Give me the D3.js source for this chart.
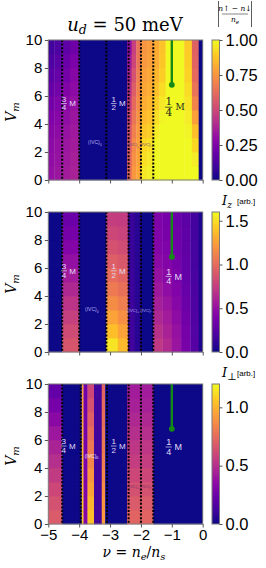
<!DOCTYPE html>
<html><head><meta charset="utf-8">
<script src="https://cdn.jsdelivr.net/npm/d3@7"></script>
<style>body{margin:0;background:#fff}svg{display:block}</style></head>
<body><svg id="c" width="266" height="568"></svg>
<script>
// ---------------- DATA ----------------
const vEdges = [0,1,2,3,4,5,6,7,8,9,10];
const xTicks = [-5,-4,-3,-2,-1,0];
const yTicks = [0,2,4,6,8,10];

// Panel 1: |(n_up - n_down)/n_e|  (values per column, V bins bottom -> top)
const p1Edges = [-5,-4.8,-4.55,-4.3,-4.0,-2.45,-2.3,-2.15,-2.0,-1.8,-1.6,-1.4,-1.2,-0.6,-0.35,-0.13,0];
const p1Values = [
  [0.31,0.30,0.29,0.27,0.25,0.22,0.19,0.16,0.13,0.10],
  [0.33,0.32,0.31,0.29,0.27,0.25,0.22,0.19,0.16,0.13],
  [0.35,0.34,0.33,0.32,0.30,0.28,0.26,0.23,0.20,0.17],
  [0.37,0.36,0.35,0.34,0.33,0.31,0.29,0.27,0.24,0.21],
  [0,0,0,0,0,0,0,0,0,0],
  [0.62,0.60,0.57,0.54,0.50,0.46,0.42,0.38,0.34,0.30],
  [0.76,0.74,0.72,0.69,0.66,0.62,0.58,0.54,0.50,0.48],
  [0.80,0.79,0.78,0.76,0.74,0.72,0.70,0.68,0.66,0.65],
  [0.96,0.94,0.92,0.88,0.85,0.82,0.80,0.78,0.76,0.75],
  [0.98,0.96,0.94,0.90,0.87,0.84,0.82,0.80,0.78,0.77],
  [1.00,1.00,0.99,0.97,0.94,0.90,0.87,0.84,0.82,0.81],
  [1.00,1.00,1.00,1.00,0.99,0.96,0.93,0.90,0.88,0.87],
  [1,1,1,1,1,1,1,1,1,1],
  [1.00,1.00,1.00,0.99,0.97,0.95,0.93,0.91,0.90,0.89],
  [1.00,0.97,0.92,0.86,0.78,0.70,0.65,0.62,0.60,0.59],
  [0,0,0,0,0,0,0,0,0,0]
];
const p1Dotted = [-4.55,-4.0,-3.12,-2.4,-2.0,-1.6];
const p1CbTicks = [0,0.25,0.5,0.75,1.0];
const p1Max = 1.0;

// Panel 2: I_z [arb.]
const p2Edges = [-5,-4.55,-4.0,-3.12,-2.75,-2.42,-2.2,-2.0,-1.6,-1.3,-1.0,-0.7,-0.4,-0.13,0];
const p2Values = [
  [0,0,0,0,0,0,0,0,0,0],
  [0.88,0.82,0.76,0.70,0.63,0.56,0.49,0.42,0.37,0.33],
  [0,0,0,0,0,0,0,0,0,0],
  [1.52,1.38,1.26,1.16,1.07,1.00,0.93,0.86,0.80,0.75],
  [1.35,1.26,1.17,1.09,1.02,0.96,0.89,0.83,0.78,0.74],
  [0.16,0.15,0.15,0.14,0.14,0.14,0.13,0.13,0.13,0.13],
  [0.07,0.07,0.07,0.07,0.07,0.07,0.07,0.07,0.07,0.07],
  [0,0,0,0,0,0,0,0,0,0],
  [0.72,0.68,0.63,0.58,0.54,0.50,0.46,0.43,0.41,0.40],
  [0.64,0.60,0.56,0.52,0.48,0.45,0.42,0.40,0.38,0.37],
  [0.52,0.50,0.47,0.44,0.41,0.39,0.37,0.35,0.34,0.33],
  [0.38,0.37,0.35,0.33,0.31,0.30,0.29,0.28,0.27,0.26],
  [0.24,0.23,0.22,0.21,0.20,0.19,0.18,0.18,0.17,0.17],
  [0.04,0.04,0.04,0.04,0.04,0.04,0.04,0.04,0.04,0.04]
];
const p2Dotted = [-4.55,-4.0,-3.12,-2.4,-2.0,-1.6];
const p2CbTicks = [0,0.5,1.0,1.5];
const p2Max = 1.6;

// Panel 3: I_perp [arb.]
const p3Edges = [-5,-4.55,-3.92,-3.86,-3.73,-3.52,-3.27,-3.16,-2.45,-1.6,0];
const p3Values = [
  [0.68,0.64,0.60,0.55,0.50,0.45,0.40,0.34,0.28,0.22],
  [0,0,0,0,0,0,0,0,0,0],
  [1.05,1.05,1.04,1.03,1.02,1.00,0.98,0.96,0.94,0.92],
  [0.32,0.31,0.30,0.30,0.29,0.28,0.28,0.27,0.26,0.26],
  [1.04,1.00,0.95,0.90,0.85,0.80,0.75,0.70,0.65,0.60],
  [0.12,0.12,0.12,0.12,0.12,0.12,0.12,0.12,0.12,0.12],
  [0.92,0.90,0.88,0.85,0.82,0.80,0.78,0.76,0.74,0.72],
  [0,0,0,0,0,0,0,0,0,0],
  [0.72,0.68,0.64,0.60,0.56,0.53,0.50,0.47,0.44,0.42],
  [0,0,0,0,0,0,0,0,0,0]
];
const p3Dotted = [-4.55,-3.95,-3.1,-2.4,-2.0,-1.6];
const p3CbTicks = [0,0.5,1.0];
const p3Max = 1.2;

// green marker line (nu, V from top down to end)
const greenNu = -1;
const greenVEnd = 6.8;

// region labels: [nu, V]
const p1Labels = {q34:[-4.49,5.46], q12:[-2.88,5.46], q14:[-1.1,5.2], ivc0:[-3.49,2.55], ivcpm:[-2.04,2.4]};
const p2Labels = {q34:[-4.49,5.8], q12:[-2.88,5.8], q14:[-1.1,5.4], ivc0:[-3.59,2.9], ivcpm:[-2.04,2.85]};
const p3Labels = {q34:[-4.5,5.57], q12:[-2.88,5.57], q14:[-1.1,5.5], ivc0:[-3.6,4.75], ivcpm:[-2.04,2.55]};

// ---------------- DRAW ----------------
const svg = d3.select("#c");
const X0 = 48.3, X1 = 202.7;
const xs = d3.scaleLinear([-5,0],[X0,X1]);
const CBX = 212, CBW = 7.5;
const SANS = "'Liberation Sans', Arial, Helvetica, sans-serif";
const SERIF = "'DejaVu Serif', 'Liberation Serif', serif";

const defs = svg.append("defs");

const panels = [
  {edges:p1Edges, values:p1Values, dotted:p1Dotted, cb:p1CbTicks, max:p1Max, fmt:d3.format(".2f"), top:40, labels:p1Labels, id:1},
  {edges:p2Edges, values:p2Values, dotted:p2Dotted, cb:p2CbTicks, max:p2Max, fmt:d3.format(".1f"), top:212, labels:p2Labels, id:2},
  {edges:p3Edges, values:p3Values, dotted:p3Dotted, cb:p3CbTicks, max:p3Max, fmt:d3.format(".1f"), top:384, labels:p3Labels, id:3}
];

function frac(g, x, y, num, den, size, color, font, mSize, mFont) {
  const w = size*0.7;
  g.append("text").attr("x",x).attr("y",y-size*0.2).attr("text-anchor","middle")
    .attr("font-size",size).attr("font-family",font).attr("fill",color).text(num);
  g.append("line").attr("x1",x-w/2).attr("x2",x+w/2).attr("y1",y).attr("y2",y)
    .attr("stroke",color).attr("stroke-width",Math.max(0.7,size*0.07));
  g.append("text").attr("x",x).attr("y",y+size*0.85).attr("text-anchor","middle")
    .attr("font-size",size).attr("font-family",font).attr("fill",color).text(den);
  g.append("text").attr("x",x+w/2+size*0.3).attr("y",y+mSize*0.36)
    .attr("font-size",mSize).attr("font-family",mFont).attr("fill",color).text("M");
}

panels.forEach(p => {
  const bottom = p.top + 140;
  const ys = d3.scaleLinear([0,10],[bottom,p.top]);
  const color = v => d3.interpolatePlasma(Math.max(0,Math.min(1,v/p.max)));
  const g = svg.append("g");

  // heatmap cells
  p.values.forEach((col,i) => {
    col.forEach((v,j) => {
      g.append("rect")
        .attr("x", xs(p.edges[i]))
        .attr("width", xs(p.edges[i+1]) - xs(p.edges[i]) + 0.3)
        .attr("y", ys(vEdges[j+1]))
        .attr("height", ys(vEdges[j]) - ys(vEdges[j+1]) + 0.3)
        .attr("fill", color(v));
    });
  });

  // dotted lines
  p.dotted.forEach(n => {
    g.append("line").attr("x1",xs(n)).attr("x2",xs(n)).attr("y1",ys(10)).attr("y2",ys(0))
      .attr("stroke","#000").attr("stroke-width",2).attr("stroke-dasharray","2,1.6");
  });

  // green line
  g.append("line").attr("x1",xs(greenNu)).attr("x2",xs(greenNu)).attr("y1",ys(10)).attr("y2",ys(greenVEnd))
    .attr("stroke","#158a15").attr("stroke-width",2.4);
  g.append("circle").attr("cx",xs(greenNu)).attr("cy",ys(greenVEnd)).attr("r",2.9).attr("fill","#158a15");

  // labels
  const L = p.labels;
  const light = "#e2dcf8";
  frac(g, xs(L.q34[0]), ys(L.q34[1]), "3", "4", 8, light, SANS, 8, SANS);
  frac(g, xs(L.q12[0]), ys(L.q12[1]), "1", "2", 8, light, SANS, 8, SANS);
  if (p.id===1) frac(g, xs(L.q14[0]), ys(L.q14[1]), "1", "4", 10.5, "#222", SERIF, 9, SERIF);
  else frac(g, xs(L.q14[0]), ys(L.q14[1]), "1", "4", 9, light, SANS, 9, SANS);
  const ivc0Col = p.id===3 ? "#f0e8ff" : "#b8b0f2";
  const ivcpmCol = p.id===1 ? "#6a4a8a" : (p.id===2 ? "#b8b0f2" : "#7a2a6a");
  const t0 = g.append("text").attr("x",xs(L.ivc0[0])).attr("y",ys(L.ivc0[1])).attr("font-size",5)
    .attr("font-family",SANS).attr("fill",ivc0Col).attr("text-anchor","middle");
  t0.append("tspan").text("(IVC)");
  t0.append("tspan").attr("font-size",3.6).attr("dy",1.2).text("0");
  const t1 = g.append("text").attr("x",xs(L.ivcpm[0])).attr("y",ys(L.ivcpm[1])).attr("font-size",4.4)
    .attr("font-family",SANS).attr("fill",ivcpmCol).attr("text-anchor","middle");
  t1.append("tspan").text("(IVC)");
  t1.append("tspan").attr("font-size",3.2).attr("dy",1.1).text("+");
  t1.append("tspan").attr("dy",-1.1).text(" (IVC)");
  t1.append("tspan").attr("font-size",3.2).attr("dy",1.1).text("−");

  // frame
  g.append("rect").attr("x",X0).attr("y",p.top).attr("width",X1-X0).attr("height",140)
    .attr("fill","none").attr("stroke","#7a7a7a").attr("stroke-width",1);

  // y axis
  const ya = g.append("g").attr("transform",`translate(${X0},0)`)
    .call(d3.axisLeft(ys).tickValues(yTicks).tickSize(3.5).tickPadding(2.5));
  ya.select(".domain").remove();
  ya.selectAll("line").attr("stroke","#555");
  ya.selectAll("text").attr("font-size",15).attr("font-family",SANS).attr("fill","#000");

  // x axis
  const xa = g.append("g").attr("transform",`translate(0,${bottom})`)
    .call(d3.axisBottom(xs).tickValues(xTicks).tickSize(3.5).tickPadding(2)
      .tickFormat(p.id===3 ? (d => d<0 ? "−"+Math.abs(d) : String(d)) : ""));
  xa.select(".domain").remove();
  xa.selectAll("line").attr("stroke","#555");
  xa.selectAll("text").attr("font-size",15).attr("font-family",SANS).attr("fill","#000");

  // colorbar
  const gid = "cbg"+p.id;
  const lg = defs.append("linearGradient").attr("id",gid).attr("x1",0).attr("x2",0).attr("y1",1).attr("y2",0);
  d3.range(0,1.0001,0.05).forEach(t => lg.append("stop").attr("offset",t).attr("stop-color",d3.interpolatePlasma(t)));
  g.append("rect").attr("x",CBX).attr("y",p.top).attr("width",CBW).attr("height",140)
    .attr("fill",`url(#${gid})`).attr("stroke","#7a7a7a").attr("stroke-width",1);
  const cs = d3.scaleLinear([0,p.max],[bottom,p.top]);
  const ca = g.append("g").attr("transform",`translate(${CBX+CBW},0)`)
    .call(d3.axisRight(cs).tickValues(p.cb).tickSize(3).tickPadding(3).tickFormat(p.fmt));
  ca.select(".domain").remove();
  ca.selectAll("line").attr("stroke","#555");
  ca.selectAll("text").attr("font-size",16.5).attr("font-family",SANS).attr("fill","#000");

  // y label V_m
  const yl = g.append("text").attr("transform",`translate(16,${p.top+72}) rotate(-90)`)
    .attr("text-anchor","middle").attr("font-family",SERIF).attr("font-size",14).attr("font-style","italic");
  yl.append("tspan").text("V");
  yl.append("tspan").attr("font-size",10).attr("dy",3).text("m");
});

// title
const tt = svg.append("text").attr("x",125).attr("y",31).attr("text-anchor","middle")
  .attr("font-family",SERIF).attr("font-size",18);
tt.append("tspan").attr("font-style","italic").text("u");
tt.append("tspan").attr("font-style","italic").attr("font-size",12.5).attr("dy",3).text("d");
tt.append("tspan").attr("dy",-3).text(" = 50 meV");

// colorbar label panel 1
const c1 = svg.append("g").attr("font-family",SERIF).attr("font-style","italic");
c1.append("line").attr("x1",218.5).attr("x2",218.5).attr("y1",1).attr("y2",27).attr("stroke","#333").attr("stroke-width",0.8);
c1.append("line").attr("x1",251.5).attr("x2",251.5).attr("y1",1).attr("y2",27).attr("stroke","#333").attr("stroke-width",0.8);
c1.append("text").attr("x",235).attr("y",11).attr("text-anchor","middle").attr("font-size",7.5).text("n↑ − n↓");
c1.append("line").attr("x1",222).attr("x2",248).attr("y1",14).attr("y2",14).attr("stroke","#333").attr("stroke-width",0.6);
const c1d = c1.append("text").attr("x",235).attr("y",22).attr("text-anchor","middle").attr("font-size",7.5);
c1d.append("tspan").text("n");
c1d.append("tspan").attr("font-size",5.5).attr("dy",1.5).text("e");

// colorbar labels panels 2, 3
[[205,"z"],[377,"⊥"]].forEach(([y,s]) => {
  const t = svg.append("text").attr("x",222).attr("y",y).attr("font-family",SERIF).attr("font-size",13);
  t.append("tspan").attr("font-style","italic").text("I");
  t.append("tspan").attr("font-size",s==="z"?9:10).attr("dy",3).attr("font-style",s==="z"?"italic":"normal").text(s);
  svg.append("text").attr("x",237).attr("y",y-1).attr("font-family",SANS).attr("font-size",8).text("[arb.]");
});

// x label
const xl = svg.append("text").attr("x",134).attr("y",557).attr("text-anchor","middle")
  .attr("font-family",SERIF).attr("font-size",14).attr("font-style","italic");
xl.append("tspan").text("ν");
xl.append("tspan").attr("font-style","normal").text(" = ");
xl.append("tspan").text("n");
xl.append("tspan").attr("font-size",10).attr("dy",3).text("e");
xl.append("tspan").attr("dy",-3).attr("font-style","normal").text("/");
xl.append("tspan").text("n");
xl.append("tspan").attr("font-size",10).attr("dy",3).text("s");
</script></body></html>
